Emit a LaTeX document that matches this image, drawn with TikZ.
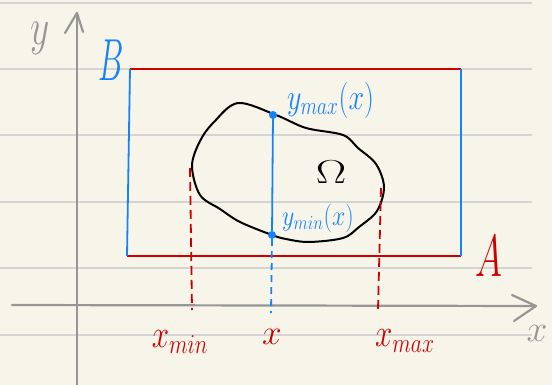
\documentclass[tikz,border=0pt]{standalone}
\usepackage{fontspec}
\definecolor{paper}{RGB}{247,245,234}
\definecolor{rule}{RGB}{212,212,212}
\definecolor{axisgray}{RGB}{150,150,150}
\definecolor{hred}{RGB}{205,0,0}
\definecolor{hblue}{RGB}{20,130,250}
\tikzset{
  ruled/.style={draw=rule, line width=1.2pt},
  axisline/.style={draw=axisgray, line width=2.2pt, line cap=round, line join=round},
  redline/.style={draw=hred, line width=1.8pt},
  blueline/.style={draw=hblue, line width=1.8pt},
  reddash/.style={draw=hred, line width=1.8pt, dash pattern=on 9pt off 5pt},
  bluedash/.style={draw=hblue, line width=1.8pt, dash pattern=on 7pt off 5pt},
  blob/.style={draw=black, line width=2pt},
  dot/.style={circle, fill=hblue, inner sep=0pt, minimum size=8pt},
  lbl/.style={inner sep=0pt},
}
\newcommand{\lab}[3]{\fontsize{20}{20}\selectfont\scalebox{#1}[#2]{#3}}
\begin{document}
\begin{tikzpicture}[x=1pt,y=-1pt]
\fill[paper] (0,0) rectangle (552,385);
\useasboundingbox (0,0) rectangle (552,385);
% ruled lines
\foreach \yy in {3,69,135,202,268,335} \draw[ruled] (0,\yy) -- (532,\yy);
% axes
\coordinate (yb) at (77,385);
\coordinate (yt) at (77,13);
\draw[axisline] (yb) -- (yt);
\draw[axisline] (65,33) -- (yt) -- (83,32);
\coordinate (xl) at (12,305);
\coordinate (xr) at (536,306);
\draw[axisline] (xl) -- (xr);
\draw[axisline] (512,295) -- (xr) -- (514,321);
\node[lbl, text=axisgray] (ylab) at (40,38) {\lab{1.8}{2.5}{$y$}};
\node[lbl, text=axisgray] (xlab) at (537,333) {\lab{1.8}{1.8}{$x$}};
% rectangle
\coordinate (tl) at (130,69);
\coordinate (tr) at (461,69);
\coordinate (bl) at (127,256);
\coordinate (br) at (461,256);
\draw[redline] (tl) -- (tr);
\draw[redline] (bl) -- (br);
\draw[blueline] (tl) -- (bl);
\draw[blueline] (tr) -- (br);
\node[lbl, text=hblue] (B) at (111,60) {\lab{1.54}{2.86}{$B$}};
\node[lbl, text=hred] (A) at (489,256) {\lab{1.76}{2.86}{$A$}};
% blob
\draw[blob] plot[smooth cycle, tension=0.55] coordinates {
 (238,103) (276,115) (306,128) (343,135) (358,148) (376,164) (384,187)
 (377,211) (359,227) (343,238) (309,242) (286,239) (272,235) (240,222)
 (220,209) (200,195) (192,166) (200,141) (214,122)};
\node[lbl, text=black] (omega) at (331,172) {\lab{2.2}{1.6}{$\Omega$}};
% x projections
\coordinate (xminT) at (190,168);
\coordinate (xminB) at (192,310);
\draw[reddash] (xminT) -- (xminB);
\coordinate (xmaxT) at (381,188);
\coordinate (xmaxB) at (378,310);
\draw[reddash] (xmaxT) -- (xmaxB);
% vertical segment
\node[dot] (ymax) at (273,115) {};
\node[dot] (ymin) at (272,235) {};
\draw[blueline] (ymax) -- (ymin);
\coordinate (xb) at (271,313);
\draw[bluedash] (ymin.south) -- (xb);
% labels
\node[lbl, text=hblue, anchor=west] (lmax) at (287,100) {\lab{1.35}{1.75}{$y_{max}(x)$}};
\node[lbl, text=hblue, anchor=west] (lmin) at (282,218) {\lab{1.15}{1.38}{$y_{min}(x)$}};
\node[lbl, text=hred] (lxmin) at (180,342) {\lab{1.5}{1.9}{$x_{min}$}};
\node[lbl, text=hred] (lx) at (272,337) {\lab{1.7}{1.7}{$x$}};
\node[lbl, text=hred] (lxmax) at (405,341) {\lab{1.5}{1.9}{$x_{max}$}};
\end{tikzpicture}
\end{document}
